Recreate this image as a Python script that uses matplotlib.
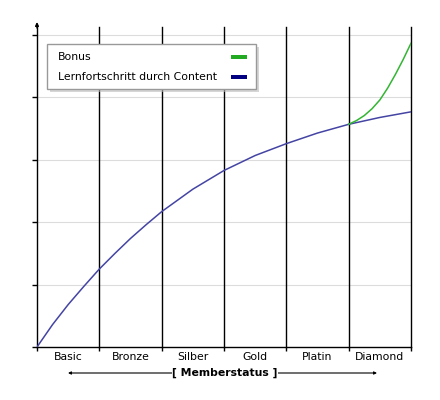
import numpy as np
import matplotlib
matplotlib.use("Agg")
import matplotlib.pyplot as plt
from matplotlib.patches import Rectangle

# member levels (one column each)
levels = ["Basic", "Bronze", "Silber", "Gold", "Platin", "Diamond"]

# progress through content
x_content = [0, 0.25, 0.5, 0.75, 1, 1.25, 1.5, 1.75, 2, 2.5, 3, 3.5, 4, 4.5, 5, 5.5, 6]
y_content = [0, 0.36, 0.68, 0.97, 1.25, 1.50, 1.74, 1.96, 2.17, 2.53, 2.83, 3.07, 3.26, 3.43, 3.57, 3.68, 3.77]

# bonus branch in the last column
x_bonus = [5, 5.125, 5.25, 5.375, 5.5, 5.625, 5.75, 5.875, 6]
y_bonus = [3.57, 3.63, 3.71, 3.82, 3.96, 4.15, 4.37, 4.61, 4.87]

legend_labels = ["Bonus", "Lernfortschritt durch Content"]
legend_colors = ["#22aa22", "#000080"]

plt.rcParams['font.family'] = ['DejaVu Sans']

fig = plt.figure(figsize=(4.4, 4.0), dpi=100)
ax = fig.add_axes([37/440, 53/400, 374/440, 320/400])

ax.set_xlim(0, 6)
ax.set_ylim(0, 5.13)

# light horizontal grid
for yy in range(1, 6):
    ax.axhline(yy, color="#dcdcdc", lw=0.8, zorder=0)
# black column boundaries
for xx in range(1, 7):
    ax.axvline(xx, color="black", lw=1, zorder=1, clip_on=False)

ax.plot(x_content, y_content, color="#4444a4", lw=1.1, zorder=3)
ax.plot(x_bonus, y_bonus, color="#33b533", lw=1.1, zorder=3)

for s in ["top", "right"]:
    ax.spines[s].set_visible(False)
ax.spines["left"].set_linewidth(1)
ax.spines["bottom"].set_linewidth(1)

ax.set_yticks(range(0, 6))
ax.set_yticklabels([])
ax.tick_params(axis="y", length=3.5, width=1, direction="out")
ax.set_xticks(range(0, 7))
ax.set_xticklabels([])
ax.tick_params(axis="x", length=3, width=1, direction="out")

# level names in the middle of each column
for i, name in enumerate(levels):
    ax.text(i + 0.5, -0.16, name, ha="center", va="center", fontsize=7.8,
            transform=ax.transData, clip_on=False)

# arrow tip on the y axis
ax.annotate("", xy=(37/440, 1 - 22/400), xytext=(37/440, 1 - 28/400),
            xycoords="figure fraction",
            arrowprops=dict(arrowstyle="-|>", lw=1, color="black",
                            mutation_scale=5, shrinkA=0, shrinkB=0))

# axis title with double arrow
ax.annotate("", xy=(68/440, 1 - 373/400), xytext=(377/440, 1 - 373/400),
            xycoords="figure fraction",
            arrowprops=dict(arrowstyle="<|-|>", lw=0.8, color="black",
                            mutation_scale=4, shrinkA=0, shrinkB=0))
fig.text(225/440, 1 - 373/400, "[ Memberstatus ]", ha="center", va="center",
         fontsize=7.8, fontweight="bold",
         bbox=dict(facecolor="white", edgecolor="none", pad=0.3))

# legend box drawn by hand: text left, colour bar right
bx, by, bw, bh = 47/440, 1 - 89/400, 209/440, 45/400
fig.add_artist(Rectangle((bx + 3/440, by - 3/400), bw, bh, transform=fig.transFigure,
                         facecolor="#bbbbbb", edgecolor="none", alpha=0.6, zorder=5))
fig.add_artist(Rectangle((bx, by), bw, bh, transform=fig.transFigure,
                         facecolor="white", edgecolor="#999999", lw=1, zorder=6))
for i, (lab, col) in enumerate(zip(legend_labels, legend_colors)):
    yc = 1 - (56.5 + 20 * i) / 400
    fig.text(58/440, yc, lab, ha="left", va="center", fontsize=7.8, zorder=7)
    fig.add_artist(Rectangle((231/440, yc - 2/400), 16/440, 4/400, transform=fig.transFigure,
                             facecolor=col, edgecolor="none", zorder=7))

fig.savefig("out.png", dpi=100)
